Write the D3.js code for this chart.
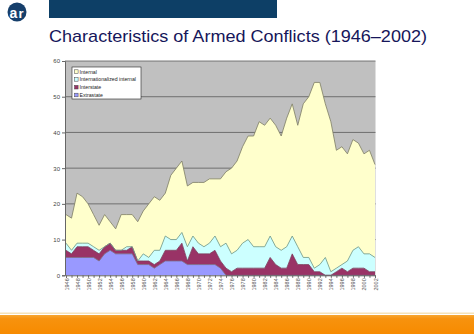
<!DOCTYPE html>
<html><head><meta charset="utf-8">
<script src="https://cdn.jsdelivr.net/npm/d3@7/dist/d3.min.js"></script>
<style>html,body{margin:0;padding:0;background:#fff;}svg{display:block;}</style>
</head><body>
<svg id="c" width="474" height="334"></svg>
<script>
const years = d3.range(1946, 2003);
const extrastate = [5,5,5,5,5,5,4,6,7,6,6,6,6,3,3,3,2,3,4,4,4,4,3,3,3,3,3,3,2,0,0,0,0,0,0,0,0,0,0,0,0,0,0,0,0,0,0,0,0,0,0,0,0,0,0,0,0];
const interstate = [2,1,3,3,3,2,2,2,2,1,1,1,2,1,1,1,1,1,3,3,3,5,1,5,3,3,3,4,2,2,1,2,2,2,2,2,2,5,3,2,2,6,3,3,3,1,1,0,0,1,2,1,2,2,2,1,1];
const internationalized = [2,1,1,1,1,1,1,0,0,0,0,1,0,0,2,1,4,3,4,3,3,3,4,3,3,2,3,4,4,7,5,5,7,8,6,6,6,6,5,5,6,5,5,2,2,1,2,5,1,1,1,3,5,6,4,5,4];
const internal = [8,9,14,13,11,9,7,9,6,6,10,9,9,11,12,15,15,14,12,18,20,20,17,15,17,18,18,16,19,20,24,25,27,29,31,35,34,33,34,32,36,37,34,43,45,52,51,43,42,33,33,30,31,29,28,29,26];
const seriesNames = ["Extrastate","Interstate","Internationalized internal","Internal"];
const yTicks = [0,10,20,30,40,50,60];
const xLabelYears = d3.range(1946, 2003, 2);
const title = "Characteristics of Armed Conflicts (1946\u20132002)";

const colors = {"Extrastate":"#9999FF","Interstate":"#993366","Internationalized internal":"#CCFFFF","Internal":"#FFFFCC"};
const strokes = {"Extrastate":"#7a6f8c","Interstate":"#7b3a5a","Internationalized internal":"#6f9a8a","Internal":"#7d7d64"};

const table = years.map((y,i)=>({year:y, "Extrastate":extrastate[i], "Interstate":interstate[i], "Internationalized internal":internationalized[i], "Internal":internal[i]}));

const svg = d3.select("#c");

// header
svg.append("rect").attr("x",49).attr("y",0).attr("width",228).attr("height",18).attr("fill","#0d3f66");
// logo
svg.append("circle").attr("cx",17).attr("cy",12).attr("r",9.5).attr("fill","#163f6b");
svg.append("text").attr("x",9.5).attr("y",18).attr("font-family","Liberation Sans, Arial, sans-serif").attr("font-weight","bold").attr("font-size",14).attr("fill","#fff").text("a");
svg.append("text").attr("x",18.5).attr("y",18).attr("font-family","Liberation Sans, Arial, sans-serif").attr("font-weight","bold").attr("font-size",13).attr("fill","#fff").text("r");

// title
svg.append("text").attr("x",49).attr("y",41.5)
  .attr("font-family","Liberation Sans, Arial, sans-serif").attr("font-size",17)
  .attr("fill","#16165a").attr("textLength",378).attr("lengthAdjust","spacingAndGlyphs")
  .text(title);

// bottom band
const grad = svg.append("defs").append("linearGradient").attr("id","og").attr("x1",0).attr("y1",0).attr("x2",0).attr("y2",1);
grad.append("stop").attr("offset","0").attr("stop-color","#f7a632");
grad.append("stop").attr("offset","0.2").attr("stop-color","#f7920e");
grad.append("stop").attr("offset","1").attr("stop-color","#f78b00");
svg.append("rect").attr("x",0).attr("y",312.5).attr("width",474).attr("height",1.5).attr("fill","#f5e2b8");
svg.append("rect").attr("x",0).attr("y",315).attr("width",474).attr("height",19).attr("fill","url(#og)");

// chart
const x = d3.scaleLinear().domain([1946,2002]).range([66,375]);
const y = d3.scaleLinear().domain([0,60]).range([275.3,61]);

svg.append("rect").attr("x",65).attr("y",y(60)).attr("width",310.5).attr("height",y(0)-y(60)).attr("fill","#C0C0C0");

// gridlines
svg.append("g").selectAll("line").data(yTicks.filter(d=>d>0)).join("line")
  .attr("x1",65).attr("x2",375.5).attr("y1",d=>y(d)).attr("y2",d=>y(d))
  .attr("stroke","#5a5a5a").attr("stroke-width",0.8);

const stack = d3.stack().keys(seriesNames);
const layers = stack(table);
const area = d3.area().x(d=>x(d.data.year)).y0(d=>y(d[0])).y1(d=>y(d[1]));
const topLine = d3.line().x(d=>x(d.data.year)).y(d=>y(d[1]));

svg.append("g").selectAll("path").data(layers).join("path")
  .attr("d",area).attr("fill",d=>colors[d.key]);
svg.append("g").selectAll("path").data(layers).join("path")
  .attr("d",topLine).attr("fill","none").attr("stroke",d=>strokes[d.key]).attr("stroke-width",0.8);

// axes
const yAxis = d3.axisLeft(y).tickValues(yTicks).tickSize(3).tickPadding(2);
const gy = svg.append("g").attr("transform","translate(65,0)").call(yAxis);
gy.select(".domain").attr("stroke","#666");
gy.selectAll(".tick line").attr("stroke","#666");
gy.selectAll("text").attr("font-family","Liberation Sans, Arial, sans-serif").attr("font-size",6).attr("fill","#444");

const xAxis = d3.axisBottom(x).tickValues(years).tickSize(2.5).tickFormat(d=>xLabelYears.includes(d)?String(d):"");
const gx = svg.append("g").attr("transform",`translate(0,${y(0)})`).call(xAxis);
gx.select(".domain").attr("stroke","#666");
gx.selectAll(".tick line").attr("stroke","#666");
gx.selectAll("text").attr("font-family","Liberation Sans, Arial, sans-serif").attr("font-size",5.5).attr("fill","#555")
  .attr("transform","rotate(-90)").attr("text-anchor","end").attr("dx","-3").attr("dy","2").attr("y",0).attr("x",0);

// legend
const lg = svg.append("g").attr("transform","translate(72,67)");
lg.append("rect").attr("width",69).attr("height",32).attr("fill","#fff").attr("stroke","#222").attr("stroke-width",0.6);
const legendOrder = ["Internal","Internationalized internal","Interstate","Extrastate"];
legendOrder.forEach((k,i)=>{
  const gy2 = 5 + i*7.8;
  lg.append("rect").attr("x",2.5).attr("y",gy2-2.2).attr("width",3.6).attr("height",3.6).attr("fill",colors[k]).attr("stroke","#444").attr("stroke-width",0.5);
  lg.append("text").attr("x",7.5).attr("y",gy2+1.6).attr("font-family","Liberation Sans, Arial, sans-serif").attr("font-size",5.2).attr("fill","#222").text(k);
});
</script>
</body></html>
